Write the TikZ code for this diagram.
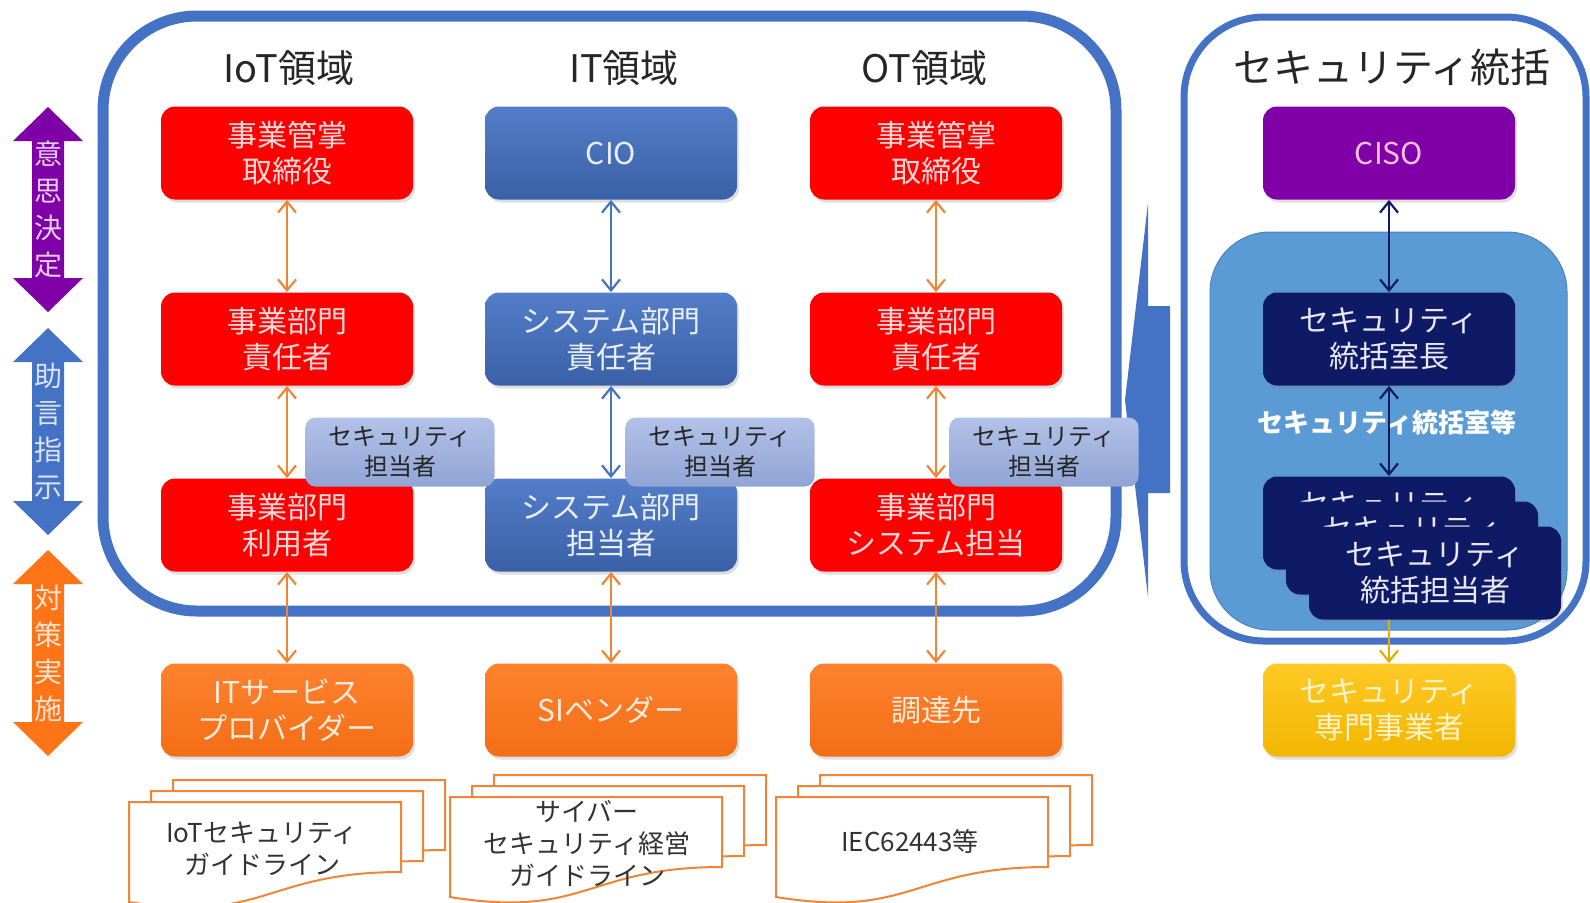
\documentclass[tikz,border=0pt]{standalone}
\usepackage{fontspec}
\setmainfont{Noto Sans CJK JP}
\usetikzlibrary{arrows.meta,shadows}
\definecolor{panelblue}{HTML}{4472C4}
\definecolor{boxred}{HTML}{FF0000}
\definecolor{boxorange}{HTML}{FF7417}
\definecolor{linkorange}{HTML}{F08535}
\definecolor{cisopurple}{HTML}{7E00A6}
\definecolor{secnavy}{HTML}{0E1A66}
\definecolor{roomblue}{HTML}{5B9BD5}
\definecolor{vendyellow}{HTML}{FFC000}
\definecolor{persblue}{HTML}{98ADE0}

\begin{document}
\begin{tikzpicture}[x=0.5pt,y=-0.5pt,
  box/.style={rounded corners=7pt, minimum width=126pt, minimum height=46.5pt, inner sep=0pt, align=center,
    font=\fontsize{15}{18}\selectfont, drop shadow={opacity=0.25, shadow xshift=1pt, shadow yshift=-1.5pt}},
  redbox/.style={box, fill=boxred, text=white!85!boxred},
  bluebox/.style={box, top color=panelblue!92!white, bottom color=panelblue!85!black, text=white!88!panelblue},
  orangebox/.style={box, top color=boxorange!90!white, bottom color=boxorange!95!black, text=white!85!boxorange},
  navybox/.style={box, fill=secnavy, text=white!90!secnavy},
  persbox/.style={rounded corners=5pt, minimum width=94.5pt, minimum height=34.5pt, inner sep=0pt, align=center,
    top color=persblue!75!white, bottom color=persblue!95!black, text=black!85, font=\fontsize{12}{15}\selectfont},
  head/.style={font=\fontsize{19}{22}\selectfont, text=black!85},
  sidetext/.style={align=center, inner sep=0pt, font=\fontsize{14}{18.5}\selectfont},
  doctext/.style={align=center, text=black!80, font=\fontsize{13}{16}\selectfont},
  link/.style={{Straight Barb[length=5.5pt,width=9pt]}-{Straight Barb[length=5.5pt,width=9pt]}, line width=1.1pt},
  docpage/.pic={\filldraw[fill=white, draw=linkorange, line width=1pt] (0,0) -- (272,0) -- (272,70)
    .. controls (136,70) and (136,122) .. (0,100) -- cycle;}]
\useasboundingbox (0,0) rectangle (1590,902);

%frames
\draw[panelblue, line width=5.5pt, rounded corners=47pt] (103,16) rectangle (1116,611);
\draw[panelblue, line width=3.5pt, rounded corners=40pt] (1184,17) rectangle (1586,641);
\filldraw[fill=roomblue, draw=roomblue!85!black, line width=0.5pt, rounded corners=30pt] (1210,232) rectangle (1567,630);
\fill[panelblue] (1148,203) -- (1148,306) -- (1170,306) -- (1170,493) -- (1148,493) -- (1148,597) -- (1125,400) -- cycle;

%side arrows
\foreach \nm/\ta/\tb/\col/\txt in {decide/107/312/cisopurple/意\\思\\決\\定, advise/328/535/panelblue/助\\言\\指\\示, act/550/756/boxorange/対\\策\\実\\施}{
  \fill[\col] (48,\ta) -- (83,\ta+34) -- (64,\ta+34) -- (64,\tb-34) -- (83,\tb-34) -- (48,\tb)
    -- (13,\tb-34) -- (32,\tb-34) -- (32,\ta+34) -- (13,\ta+34) -- cycle;
  \node[sidetext, text=white!80!\col] (\nm) at (48,{(\ta+\tb)/2}) {\txt};
}

%headers
\node[head] (iothead) at (289,68) {IoT領域};
\node[head] (ithead) at (624,68) {IT領域};
\node[head] (othead) at (924,68) {OT領域};
\node[font=\fontsize{20}{24}\selectfont, text=black!85] (sechead) at (1392,67) {セキュリティ統括};

%columns
\node[redbox] (iotexec) at (287,153) {事業管掌\\取締役};
\node[redbox] (iotmgr) at (287,339) {事業部門\\責任者};
\node[redbox] (iotuser) at (287,525) {事業部門\\利用者};
\node[orangebox] (iotvendor) at (287,710) {ITサービス\\プロバイダー};
\node[bluebox] (itcio) at (611,153) {CIO};
\node[bluebox] (itmgr) at (611,339) {システム部門\\責任者};
\node[bluebox] (itstaff) at (611,525) {システム部門\\担当者};
\node[orangebox] (itvendor) at (611,710) {SIベンダー};
\node[redbox] (otexec) at (936,153) {事業管掌\\取締役};
\node[redbox] (otmgr) at (936,339) {事業部門\\責任者};
\node[redbox] (otsys) at (936,525) {事業部門\\システム担当};
\node[orangebox] (otvendor) at (936,710) {調達先};

\node[persbox] (secpa) at (400,452) {セキュリティ\\担当者};
\node[persbox] (secpb) at (720,452) {セキュリティ\\担当者};
\node[persbox] (secpc) at (1044,452) {セキュリティ\\担当者};

%security
\node[box, fill=cisopurple, text=white!75!magenta] (ciso) at (1389,153) {CISO};
\node[navybox] (secchief) at (1389,339) {セキュリティ\\統括室長};
\node[text=white, font=\fontsize{13}{16}\selectfont\bfseries] (secroom) at (1387,423) {セキュリティ統括室等};
\node[navybox] (secstaffa) at (1389,523) {セキュリティ\\統括担当者};
\node[navybox] (secstaffb) at (1412,548) {セキュリティ\\統括担当者};
\node[navybox] (secstaffc) at (1435,573) {セキュリティ\\統括担当者};
\node[box, top color=vendyellow!85!white, bottom color=vendyellow!95!black, text=white!80!vendyellow] (secvendor) at (1389,710) {セキュリティ\\専門事業者};

%links
\foreach \a/\b in {iotexec/iotmgr, iotmgr/iotuser, iotuser/iotvendor, otexec/otmgr, otmgr/otsys, otsys/otvendor, itstaff/itvendor}
  \draw[link, linkorange] (\a) -- (\b);
\foreach \a/\b in {itcio/itmgr, itmgr/itstaff}
  \draw[link, panelblue] (\a) -- (\b);
\draw[link, secnavy] (ciso) -- (secchief);
\draw[link, secnavy] (secchief) -- (secstaffa);
\draw[-{Straight Barb[length=5.5pt,width=9pt]}, line width=1.1pt, vendyellow!90!black] (secvendor.north |- secstaffc.south) -- (secvendor);

%guidelines
\foreach \gx/\gy in {129/802, 450/797, 776/797}
  \foreach \k in {2,1,0}
    \pic at (\gx+22*\k, \gy-11*\k) {docpage};
\node[doctext] (doca) at (262,849) {IoTセキュリティ\\ガイドライン};
\node[doctext] (docb) at (587,843) {サイバー\\セキュリティ経営\\ガイドライン};
\node[doctext] (docc) at (910,842) {IEC62443等};
\end{tikzpicture}
\end{document}
